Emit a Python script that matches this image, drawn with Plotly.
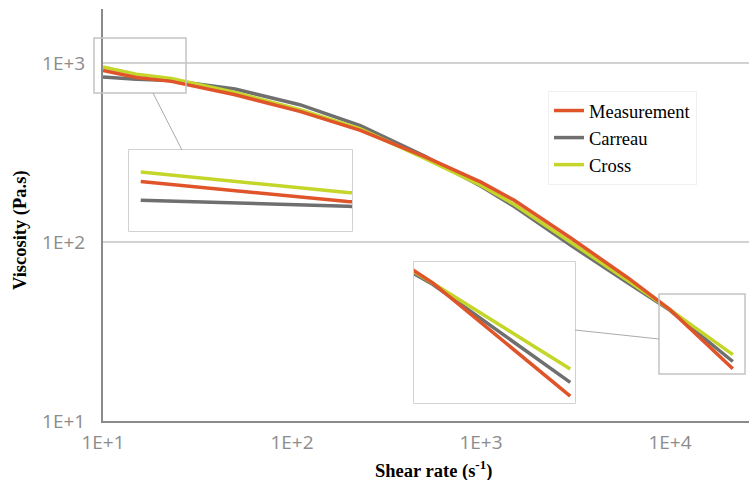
import plotly.graph_objects as go

# ---- data ----
shear_rate = [10, 15, 23, 50, 110, 230, 500, 1000, 1500, 3000, 6000, 10000, 21500]
measurement = [910, 830, 790, 665, 537, 421, 301, 216, 171, 105, 63, 41.9, 19.6]
carreau = [835, 812, 800, 716, 585, 447, 303, 205, 158, 95.5, 59, 41.5, 21.5]
cross = [950, 865, 821, 686, 548, 428, 294, 207, 162, 99.5, 60.8, 41.9, 23.5]

x_ticks = [10, 100, 1000, 10000]
x_labels = ["1E+1", "1E+2", "1E+3", "1E+4"]
y_ticks = [10, 100, 1000]
y_labels = ["1E+1", "1E+2", "1E+3"]

series = [
    ("Carreau", carreau, "#6f6f6f", 2),
    ("Cross", cross, "#c5d62a", 3),
    ("Measurement", measurement, "#e0542a", 1),
]

fig = go.Figure()
for name, vals, col, rank in series:
    fig.add_trace(go.Scatter(x=shear_rate, y=vals, name=name, mode="lines",
                             line=dict(color=col, width=3.5), legendrank=rank,
                             xaxis="x", yaxis="y"))
# inset copies (zoomed views)
for ax in ("2", "3"):
    for name, vals, col, rank in series:
        fig.add_trace(go.Scatter(x=shear_rate, y=vals, name=name, mode="lines",
                                 line=dict(color=col, width=3.5), showlegend=False,
                                 xaxis="x" + ax, yaxis="y" + ax))

W, H = 749, 480
L, R, T, B = 103, 0, 9, 59
pw, ph = W - L - R, H - T - B


def px(x):
    return (x - L) / pw


def py(y):
    return (H - B - y) / ph


tickfont = dict(family="Open Sans", size=19, color="#8c8c8c")

fig.update_layout(
    width=W, height=H,
    margin=dict(l=L, r=R, t=T, b=B),
    paper_bgcolor="white", plot_bgcolor="white",
    showlegend=True,
    legend=dict(x=px(548), y=py(91), xanchor="left", yanchor="top",
                font=dict(family="Liberation Serif", size=18.5, color="black"),
                bgcolor="white", bordercolor="#f0f0f0", borderwidth=1,
                itemwidth=30, tracegroupgap=0),
    xaxis=dict(type="log", range=[1, 4.418], domain=[0, 1],
               showline=True, linecolor="#8a8a8a", linewidth=2,
               showgrid=False, zeroline=False, ticks="", ticklabelstandoff=3,
               tickvals=x_ticks, ticktext=x_labels, tickfont=tickfont),
    yaxis=dict(type="log", range=[1, 3.302], domain=[0, 1],
               showline=True, linecolor="#8a8a8a", linewidth=2,
               showgrid=True, gridcolor="#d2d2d2", gridwidth=1.5,
               zeroline=False, ticks="", ticklabelstandoff=12,
               tickvals=y_ticks, ticktext=y_labels, tickfont=tickfont),
    xaxis2=dict(type="log", range=[0.99, 1.18], domain=[px(129), px(352)],
                anchor="y2", visible=False),
    yaxis2=dict(type="log", range=[2.8605, 3.0215], domain=[py(231), py(150)],
                anchor="x2", visible=False),
    xaxis3=dict(type="log", range=[3.954, 4.344], domain=[px(414), px(575)],
                anchor="y3", visible=False),
    yaxis3=dict(type="log", range=[1.272, 1.684], domain=[py(403), py(262)],
                anchor="x3", visible=False),
)

box_line = dict(color="#c4c4c4", width=1.5)
shapes = [
    # inset backgrounds
    dict(type="rect", xref="paper", yref="paper", x0=px(129), x1=px(352),
         y0=py(231), y1=py(150), fillcolor="#ebebeb", line=box_line, layer="below"),
    dict(type="rect", xref="paper", yref="paper", x0=px(414), x1=px(575),
         y0=py(403), y1=py(262), fillcolor="#ebebeb", line=box_line, layer="below"),
    # source boxes
    dict(type="rect", xref="paper", yref="paper", x0=px(94), x1=px(186),
         y0=py(93), y1=py(38), line=box_line, layer="above"),
    dict(type="rect", xref="paper", yref="paper", x0=px(659), x1=px(745),
         y0=py(374), y1=py(294), line=box_line, layer="above"),
    # connectors
    dict(type="line", xref="paper", yref="paper", x0=px(153), y0=py(93),
         x1=px(182), y1=py(150), line=dict(color="#aaaaaa", width=1)),
    dict(type="line", xref="paper", yref="paper", x0=px(575), y0=py(330),
         x1=px(659), y1=py(339), line=dict(color="#aaaaaa", width=1)),
]
fig.update_layout(shapes=shapes)

title_font = dict(family="Liberation Serif", size=18.5, color="black")
fig.add_annotation(text="<b>Viscosity (Pa.s)</b>", xref="paper", yref="paper",
                   x=px(20), y=py(230), textangle=-90, showarrow=False,
                   font=title_font, xanchor="center", yanchor="middle")
fig.add_annotation(text="<b>Shear rate (s<sup>-1</sup>)</b>", xref="paper", yref="paper",
                   x=px(433), y=py(469), showarrow=False,
                   font=title_font, xanchor="center", yanchor="middle")

fig.write_html("out.html")
